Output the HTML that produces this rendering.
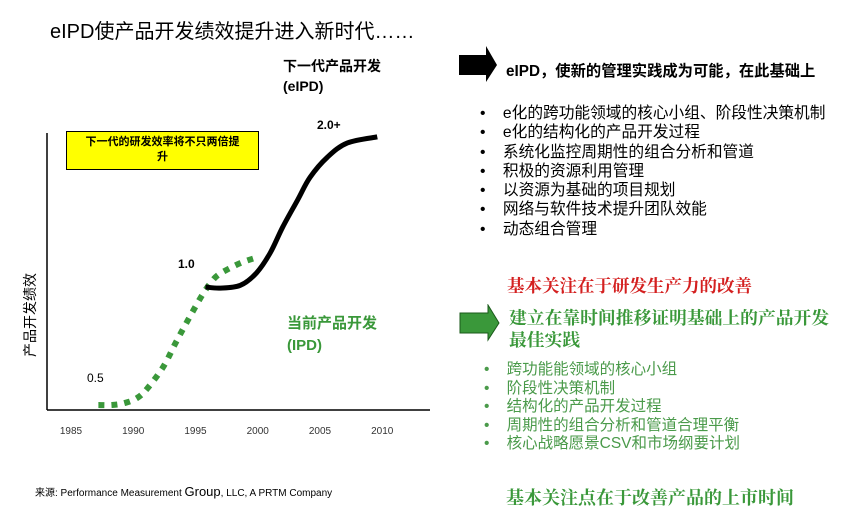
<!DOCTYPE html>
<html><head><meta charset="utf-8">
<style>
body{margin:0;width:858px;height:508px;background:#fff;overflow:hidden;position:relative;font-family:"Liberation Sans","Noto Sans CJK SC",sans-serif;}
.t{position:absolute;white-space:nowrap;}
.b{font-weight:bold;}
</style></head><body>
<div class="t" style="left:50px;top:15px;font-size:20px;">eIPD使产品开发绩效提升进入新时代……</div>
<div class="t b" style="left:283px;top:56px;font-size:14px;line-height:20px;">下一代产品开发<br>(eIPD)</div>

<svg width="858" height="508" style="position:absolute;left:0;top:0" id="chart">
  <line x1="47" y1="133" x2="47" y2="410" stroke="#000" stroke-width="1.5"/>
  <line x1="47" y1="410" x2="430" y2="410" stroke="#000" stroke-width="1.5"/>
  <g id="ticks"></g>
  <path id="ipd" fill="none" stroke="#3a983a" stroke-width="6" stroke-dasharray="6 7"/>
  <path id="eipd" fill="none" stroke="#000" stroke-width="5"/>
  <text transform="translate(35,315) rotate(-90)" text-anchor="middle" font-size="14" font-family="Liberation Sans, Noto Sans CJK SC, sans-serif">产品开发绩效</text>
  <text x="87" y="382" font-size="12" font-family="Liberation Sans, sans-serif">0.5</text>
  <text x="178" y="268" font-size="12" font-weight="bold" font-family="Liberation Sans, sans-serif">1.0</text>
  <text x="317" y="129" font-size="12" font-weight="bold" font-family="Liberation Sans, sans-serif">2.0+</text>
</svg>

<div style="position:absolute;left:66px;top:131px;width:193px;height:39px;background:#ffff00;border:1px solid #000;box-sizing:border-box;text-align:center;font-size:11px;font-weight:bold;line-height:15px;padding-top:3px;">下一代的研发效率将不只两倍提<br>升</div>
<div class="t b" style="left:287px;top:313px;font-size:15px;line-height:22px;color:#3a983a;">当前产品开发<br>(IPD)</div>
<div class="t" style="left:35px;top:484px;font-size:10px;">来源: Performance Measurement <span style="font-size:13px">Group</span>, LLC, A PRTM Company</div>

<svg width="40" height="38" style="position:absolute;left:459px;top:46px"><polygon points="0,9 27,9 27,0 38,19 27,36 27,29 0,29" fill="#000"/></svg>
<div class="t b" style="left:506px;top:59px;font-size:15.3px;">eIPD，使新的管理实践成为可能，在此基础上</div>
<div style="position:absolute;left:480px;top:104px;font-size:15.7px;line-height:19.3px;">
<div>•&nbsp;&nbsp;&nbsp; e化的跨功能领域的核心小组、阶段性决策机制</div>
<div>•&nbsp;&nbsp;&nbsp; e化的结构化的产品开发过程</div>
<div>•&nbsp;&nbsp;&nbsp; 系统化监控周期性的组合分析和管道</div>
<div>•&nbsp;&nbsp;&nbsp; 积极的资源利用管理</div>
<div>•&nbsp;&nbsp;&nbsp; 以资源为基础的项目规划</div>
<div>•&nbsp;&nbsp;&nbsp; 网络与软件技术提升团队效能</div>
<div>•&nbsp;&nbsp;&nbsp; 动态组合管理</div>
</div>
<div class="t b" style="left:507px;top:273px;font-size:17.5px;color:#d42020;font-family:'Liberation Serif','Noto Serif CJK SC',serif;">基本关注在于研发生产力的改善</div>
<svg width="42" height="38" style="position:absolute;left:459px;top:304px"><polygon points="1,9 29,9 29,1 40,19 29,36 29,29 1,29" fill="#3a983a" stroke="#1a5a1a" stroke-width="1"/></svg>
<div class="t b" style="left:509px;top:307px;font-size:17.8px;line-height:22px;color:#3a983a;font-family:'Liberation Serif','Noto Serif CJK SC',serif;">建立在靠时间推移证明基础上的产品开发<br>最佳实践</div>
<div style="position:absolute;left:484px;top:361px;font-size:15.5px;line-height:18.6px;color:#4a9a4a;">
<div>•&nbsp;&nbsp;&nbsp; 跨功能能领域的核心小组</div>
<div>•&nbsp;&nbsp;&nbsp; 阶段性决策机制</div>
<div>•&nbsp;&nbsp;&nbsp; 结构化的产品开发过程</div>
<div>•&nbsp;&nbsp;&nbsp; 周期性的组合分析和管道合理平衡</div>
<div>•&nbsp;&nbsp;&nbsp; 核心战略愿景CSV和市场纲要计划</div>
</div>
<div class="t b" style="left:506px;top:484px;font-size:18px;color:#3a983a;font-family:'Liberation Serif','Noto Serif CJK SC',serif;">基本关注点在于改善产品的上市时间</div>

<script>
const tickYears = [1985, 1990, 1995, 2000, 2005, 2010];
const ipdYears = [1987.2, 1988.3, 1989.3, 1990.3, 1991.1, 1992.4, 1993.4, 1994.4, 1995.5, 1996.2, 1996.8, 1997.8, 1998.8, 1999.8];
const ipdValues = [1.8, 1.8, 2.5, 4.3, 7.6, 15.5, 24.2, 32.5, 41.2, 45.8, 48.7, 51.3, 53.4, 54.9];
const eipdYears = [1995.8, 1997.0, 1998.6, 1999.9, 2001.0, 2002.0, 2003.2, 2004.2, 2005.6, 2007.2, 2009.6];
const eipdValues = [44.4, 44.0, 45.0, 49.5, 56.7, 66.0, 75.8, 84.0, 91.3, 96.4, 98.6];

function xs(yr){ return 71 + (yr - 1985) * 12.45; }
function ys(v){ return 410 - v * 2.77; }
function smooth(xa, va){
  const p = xa.map((x,i)=>[xs(x), ys(va[i])]);
  let d = 'M' + p[0][0] + ',' + p[0][1];
  for(let i=0;i<p.length-1;i++){
    const p0=p[Math.max(0,i-1)], p1=p[i], p2=p[i+1], p3=p[Math.min(p.length-1,i+2)];
    const c1=[p1[0]+(p2[0]-p0[0])/6, p1[1]+(p2[1]-p0[1])/6];
    const c2=[p2[0]-(p3[0]-p1[0])/6, p2[1]-(p3[1]-p1[1])/6];
    d += ' C'+c1[0]+','+c1[1]+' '+c2[0]+','+c2[1]+' '+p2[0]+','+p2[1];
  }
  return d;
}
document.getElementById('ipd').setAttribute('d', smooth(ipdYears, ipdValues));
document.getElementById('eipd').setAttribute('d', smooth(eipdYears, eipdValues));
const g = document.getElementById('ticks');
tickYears.forEach(yr=>{
  const t = document.createElementNS('http://www.w3.org/2000/svg','text');
  t.setAttribute('x', xs(yr));
  t.setAttribute('y', 434);
  t.setAttribute('text-anchor','middle');
  t.setAttribute('font-size','10');
  t.setAttribute('fill','#333');
  t.setAttribute('font-family','Liberation Sans, sans-serif');
  
  
  t.textContent = yr;
  g.appendChild(t);
});
</script>
</body></html>
